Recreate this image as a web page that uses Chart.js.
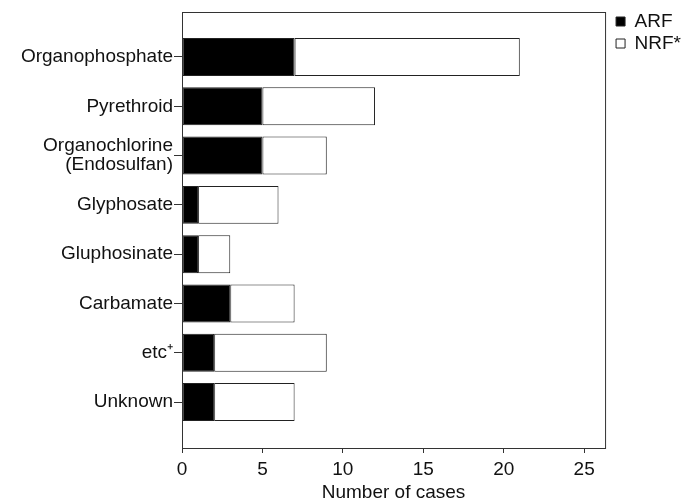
<!DOCTYPE html>
<html>
<head>
<meta charset="utf-8">
<script src="https://cdn.jsdelivr.net/npm/chart.js@4/dist/chart.umd.min.js"></script>
<style>
    html, body { margin: 0; padding: 0; background: #fff; }
    #wrap { width: 683px; height: 504px; position: relative; }
</style>
</head>
<body>
<div id="wrap"><canvas id="mainChart"></canvas></div>
<script>
// 数据
const categories = [
    'Organophosphate',
    'Pyrethroid',
    ['Organochlorine', '(Endosulfan)'],
    'Glyphosate',
    'Gluphosinate',
    'Carbamate',
    'etc\u207A',
    'Unknown'
];
const arfCases = [7, 5, 5, 1, 1, 3, 2, 2];
const nrfCases = [14, 7, 4, 5, 2, 4, 7, 5];
const xTicks = [0, 5, 10, 15, 20, 25];

const FONT = "'Liberation Sans', Arial, Helvetica, sans-serif";
const INK = '#111';
const LINE = '#333';

// 绘图区边框
const framePlugin = {
    id: 'frame',
    afterDraw(chart) {
        const { ctx, chartArea: a } = chart;
        ctx.save();
        ctx.strokeStyle = LINE;
        ctx.lineWidth = 1;
        ctx.strokeRect(a.left + 0.5, a.top + 0.5, a.right - a.left, a.bottom - a.top);
        ctx.restore();
    }
};

// 图例右移，离开绘图区一点
const legendShift = {
    id: 'legendShift',
    afterLayout(chart) {
        const lg = chart.legend;
        if (lg) {
            lg.left += 8;
            lg.right += 8;
            lg.top -= 3;
            lg.bottom -= 3;
        }
    }
};

function toPoints(values) {
    return values.map((v, i) => ({ x: v, y: i }));
}

const ctx = document.getElementById('mainChart').getContext('2d');
new Chart(ctx, {
    type: 'bar',
    data: {
        datasets: [
            {
                label: 'ARF',
                data: toPoints(arfCases),
                backgroundColor: '#000',
                borderColor: '#222',
                borderWidth: 1,
                borderSkipped: false
            },
            {
                label: 'NRF*',
                data: toPoints(nrfCases),
                backgroundColor: '#fff',
                borderColor: '#222',
                borderWidth: 1,
                borderSkipped: false
            }
        ]
    },
    options: {
        indexAxis: 'y',
        responsive: true,
        maintainAspectRatio: false,
        animation: false,
        barPercentage: 0.77,
        categoryPercentage: 1,
        layout: { padding: { top: 12, right: 0, left: 4 } },
        plugins: {
            tooltip: { enabled: false },
            legend: {
                position: 'right',
                align: 'start',
                labels: {
                    color: INK,
                    font: { family: FONT, size: 19 },
                    boxWidth: 9,
                    boxHeight: 9,
                    padding: 3
                }
            }
        },
        scales: {
            x: {
                stacked: true,
                min: 0,
                max: 26.3,
                afterBuildTicks: scale => {
                    scale.ticks = xTicks.map(v => ({ value: v }));
                },
                afterFit: scale => { scale.height = 56; },
                grid: { drawOnChartArea: false, drawTicks: true, tickLength: 5, color: LINE },
                border: { display: true, color: LINE },
                ticks: { color: INK, font: { family: FONT, size: 19 }, padding: 5 },
                title: {
                    display: true,
                    text: 'Number of cases',
                    color: INK,
                    font: { family: FONT, size: 19 },
                    padding: { top: 2, bottom: 0 }
                }
            },
            y: {
                type: 'linear',
                stacked: true,
                reverse: true,
                offset: false,
                min: -0.913,
                max: 7.933,
                afterBuildTicks: scale => {
                    scale.ticks = categories.map((c, i) => ({ value: i }));
                },
                afterFit: scale => { scale.width = 178; },
                grid: { offset: false, drawOnChartArea: false, drawTicks: true, tickLength: 8, color: LINE },
                border: { display: true, color: LINE },
                ticks: {
                    color: INK,
                    font: { family: FONT, size: 19, lineHeight: 1.0 },
                    padding: 1,
                    callback: v => categories[v]
                }
            }
        }
    },
    plugins: [framePlugin, legendShift]
});
</script>
</body>
</html>
